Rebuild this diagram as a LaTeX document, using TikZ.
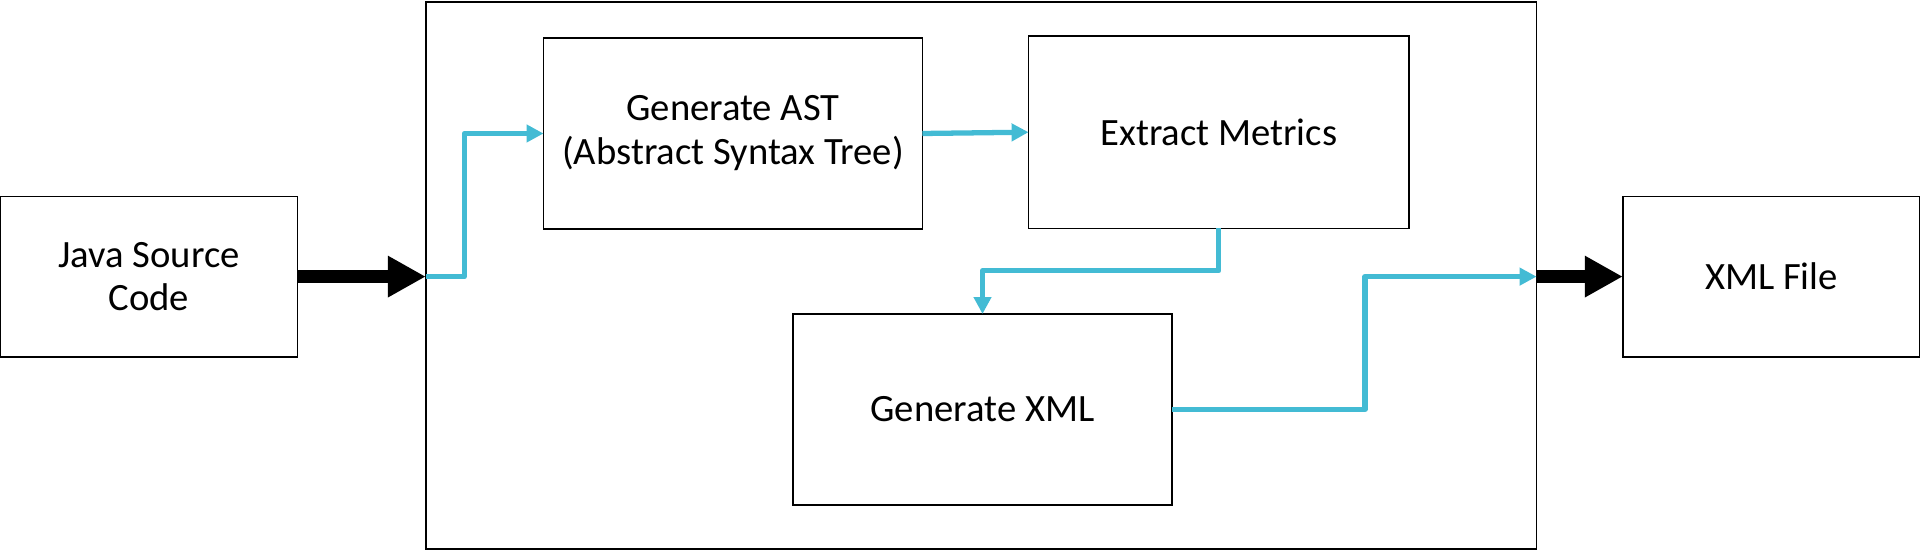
\documentclass[tikz,border=0pt]{standalone}
\usepackage{fontspec}
\setmainfont{Carlito}
\usepackage{tikz}
\usetikzlibrary{positioning}
\usetikzlibrary{arrows.meta}
\definecolor{flowblue}{HTML}{43BBD4}
\tikzset {
  % process boxes
  block/.style = {draw, rectangle, line width=0.85pt, inner sep=0pt, outer sep=0pt,
    align=center, font=\fontsize{22}{25}\selectfont},
  % data going into and out of the tool
  bigarrow/.style={line width=7.4pt, -{Triangle[length=0.76cm, width=0.78cm]}},
  % flow inside the tool
  flow/.style={flowblue, line width=3pt, line join=round, -{Triangle[length=0.34cm, width=0.34cm]}},
}
\begin{document}
\begin{tikzpicture}[x=0.02cm, y=0.02cm]
        \useasboundingbox (0,0) rectangle (1920,550);

        \node[block, minimum width=22.22cm, minimum height=10.94cm] (tool) at (981.2,274.5) {};
        \node[block, minimum width=5.95cm, minimum height=3.21cm] (java) at (149,273.4) {Java Source\\Code};
        \node[block, minimum width=5.95cm, minimum height=3.21cm] (xmlfile) at (1771.5,273.4) {XML File};
        \node[block, minimum width=7.58cm, minimum height=3.82cm] (ast) at (733,416.5) {Generate AST\\(Abstract Syntax Tree)};
        \node[block, minimum width=7.61cm, minimum height=3.85cm] (metrics) at (1218.8,417.8) {Extract Metrics};
        \node[block, minimum width=7.58cm, minimum height=3.82cm] (xmlgen) at (982.5,140.5) {Generate XML};

        \coordinate (in) at (java -| tool.west);
        \coordinate (out) at (xmlfile -| tool.east);

        \draw [bigarrow] (java.east) -- (in);
        \draw [bigarrow] (out) -- (xmlfile.west);

        \draw [flow] (in) -- ++(38.5,0) |- (ast.west);
        \draw [flow] (ast.east) -- (metrics.west);
        \draw [flow] (metrics.south) -- ++(0,-42.4) -| (xmlgen.north);
        \draw [flow] (xmlgen.east) -- ++(193,0) |- (out);
      \end{tikzpicture}
\end{document}
